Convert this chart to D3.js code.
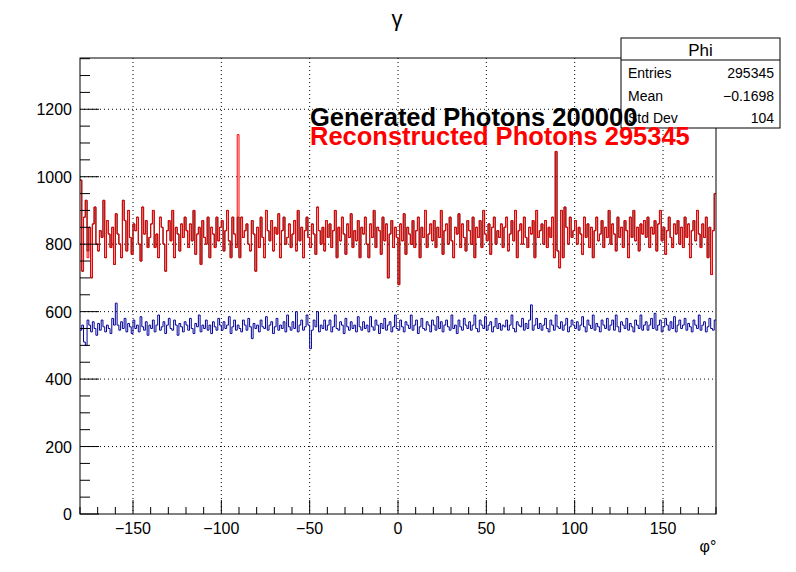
<!DOCTYPE html>
<html>
<head>
<meta charset="utf-8">
<script src="https://cdn.jsdelivr.net/npm/d3@7"></script>
<style>
body { margin: 0; background: #fff; }
text { font-family: "Liberation Sans", Arial, sans-serif; }
</style>
</head>
<body>
<div id="chart"></div>
<script>
const width = 796
const height = 572
const margins = ({ top: 58, right: 80, bottom: 58, left: 80 })

// bins of 1 degree, -180 .. 179
const binStart = -180
const binWidth = 1

const redCounts = [
    990,720,880,930,760,850,700,860,910,800,780,840,820,930,760,870,830,790,850,740,
    890,830,800,760,930,870,780,900,820,770,860,840,880,800,750,910,830,870,790,820,
    860,900,790,830,760,880,850,800,720,840,870,810,900,760,850,830,780,860,820,880,
    840,790,860,810,900,770,830,850,740,870,820,800,880,760,850,830,790,880,810,850,
    870,780,840,900,810,760,880,830,790,1125,760,880,820,840,860,800,780,870,830,720,
    850,790,880,820,760,900,840,810,870,780,850,830,890,760,840,880,800,820,860,790,
    830,870,780,900,810,850,760,840,880,820,790,860,830,770,910,840,800,850,780,870,
    820,860,790,840,900,760,850,810,880,830,770,860,820,890,790,840,810,870,760,850,
    830,880,800,760,860,820,900,790,850,840,770,880,810,860,700,830,870,790,850,820,
    680,860,810,890,770,850,830,800,870,790,840,880,760,850,820,900,790,830,860,810,
    870,790,850,820,900,770,840,860,800,880,810,760,850,830,890,790,860,820,780,870,
    840,800,880,760,850,820,870,790,900,830,810,860,770,850,880,800,840,820,860,790,
    850,880,780,830,870,810,900,760,840,860,800,880,820,790,850,830,870,760,900,820,
    840,860,800,870,790,850,820,880,760,1075,780,730,900,760,910,850,800,880,820,840,
    870,800,850,830,770,880,820,860,790,850,760,840,880,810,830,870,790,850,820,900,
    800,860,830,780,880,820,850,790,870,840,760,880,820,900,810,850,780,860,830,870,
    820,880,790,850,830,870,780,860,900,810,850,770,840,880,820,790,860,830,870,800,
    850,790,880,820,860,760,840,870,810,900,830,790,860,820,880,760,850,710,840,950
]

const blackCounts = [
    990,720,880,930,780,850,700,860,910,800,780,840,820,930,760,870,830,790,850,740,
    890,830,800,760,930,870,780,900,820,770,860,840,880,800,750,910,830,870,790,820,
    860,900,790,830,760,880,850,800,720,840,870,810,900,760,850,830,780,860,820,880,
    840,790,860,810,900,770,830,850,740,870,820,800,880,760,850,830,790,880,810,850,
    870,780,840,900,810,760,880,830,790,880,760,880,820,840,860,800,780,870,830,720,
    850,790,880,820,760,900,840,810,870,780,850,830,890,760,840,880,800,820,860,790,
    830,870,780,900,810,850,760,840,880,820,790,860,830,770,910,840,800,850,780,870,
    820,860,790,840,900,760,850,810,880,830,770,860,820,890,790,840,810,870,760,850,
    830,880,800,760,860,820,900,790,850,840,770,880,810,860,700,830,870,790,850,820,
    680,860,810,890,770,850,830,800,870,790,840,880,760,850,820,900,790,830,860,810,
    870,790,850,820,900,770,840,860,800,880,810,760,850,830,890,790,860,820,780,870,
    840,800,880,760,850,820,870,790,900,830,810,860,770,850,880,800,840,820,860,790,
    850,880,780,830,870,810,900,760,840,860,800,880,820,790,850,830,870,760,900,820,
    840,860,800,870,790,850,820,880,760,1075,780,730,900,760,910,850,800,880,820,840,
    870,800,850,830,770,880,820,860,790,850,760,840,880,810,830,870,790,850,820,900,
    800,860,830,780,880,820,850,790,870,840,760,880,820,900,810,850,780,860,830,870,
    820,880,790,850,830,870,780,860,900,810,850,770,840,880,820,790,860,830,870,800,
    850,790,880,820,860,760,840,870,810,900,830,790,860,820,880,760,850,710,840,950
]

const blueCounts = [
    545,560,510,500,575,560,540,570,550,530,565,545,575,555,540,560,550,535,580,560,
    625,560,545,570,550,580,540,565,555,535,575,550,560,540,585,555,545,570,530,560,
    550,575,540,560,590,545,555,570,535,560,580,550,545,575,560,530,565,555,540,570,
    560,545,580,550,535,565,555,590,540,560,550,575,545,560,535,570,555,545,580,560,
    545,570,550,560,585,535,555,575,545,560,550,540,575,560,545,580,555,520,565,550,
    560,540,575,555,550,585,545,560,570,535,555,580,545,560,550,570,540,590,555,545,
    570,550,600,540,560,575,545,555,590,560,490,545,575,555,600,540,560,550,575,545,
    560,575,540,555,590,550,545,570,560,535,580,555,545,570,550,560,540,585,555,545,
    570,550,560,540,585,555,545,575,560,535,565,550,580,545,560,570,540,555,590,550,
    545,575,555,540,570,560,550,590,545,560,575,535,555,580,550,545,570,560,540,575,
    560,545,585,550,570,540,560,575,555,545,590,550,560,535,575,555,545,580,560,550,
    570,545,560,590,550,540,575,560,550,585,545,560,570,540,555,580,550,565,545,560,
    555,575,545,560,590,550,540,570,560,555,580,545,565,550,575,620,545,560,580,550,
    565,545,560,580,550,540,575,560,545,590,555,550,570,545,560,580,540,555,575,560,
    550,570,545,560,585,555,540,575,560,550,590,545,565,555,540,575,560,550,580,545,
    560,575,545,590,555,540,570,560,550,580,545,565,555,540,575,560,550,590,545,560,
    570,545,560,580,550,595,545,560,575,540,555,580,560,545,570,550,585,540,560,575,
    550,560,580,545,565,555,540,575,560,550,590,545,560,570,540,555,580,550,545,575
]

const xTicks = [-150, -100, -50, 0, 50, 100, 150]
const yTicks = [0, 200, 400, 600, 800, 1000, 1200]
const statsLabels = ["Entries", "Mean", "Std Dev"]
const statsValues = ["295345", "\u22120.1698", "104"]

const svg = d3.select("#chart")
    .append("svg")
    .attr("width", width)
    .attr("height", height)

const x = d3.scaleLinear().domain([-180, 180]).range([margins.left, width - margins.right])
const y = d3.scaleLinear().domain([0, 1352]).range([height - margins.bottom, margins.top])
const plotBottom = height - margins.bottom
const plotRight = width - margins.right

// grid
svg.selectAll(".xgrid").data(xTicks).enter().append("line")
    .attr("x1", d => x(d)).attr("x2", d => x(d))
    .attr("y1", margins.top).attr("y2", plotBottom)
    .attr("stroke", "#000").attr("stroke-dasharray", "1,3")
svg.selectAll(".ygrid").data(yTicks.slice(1)).enter().append("line")
    .attr("x1", margins.left).attr("x2", plotRight)
    .attr("y1", d => y(d)).attr("y2", d => y(d))
    .attr("stroke", "#000").attr("stroke-dasharray", "1,3")

function drawHist(counts, color) {
    let pts = counts.map((c, i) => [binStart + i * binWidth, c])
    pts.push([binStart + counts.length * binWidth, counts[counts.length - 1]])
    let line = d3.line().x(d => x(d[0])).y(d => y(d[1])).curve(d3.curveStepAfter)
    svg.append("path")
        .attr("d", line(pts))
        .attr("fill", "none")
        .attr("stroke", color)
        .attr("stroke-width", 1)
}

drawHist(blackCounts, "#000")
drawHist(redCounts, "#ff0000")
drawHist(blueCounts, "#000099")

// frame
svg.append("rect")
    .attr("x", margins.left).attr("y", margins.top)
    .attr("width", plotRight - margins.left).attr("height", plotBottom - margins.top)
    .attr("fill", "none").attr("stroke", "#000")

// ticks (ROOT style, inside)
const xMinor = d3.range(-180, 181, 10)
svg.selectAll(".xminor").data(xMinor).enter().append("line")
    .attr("x1", d => x(d)).attr("x2", d => x(d))
    .attr("y1", plotBottom).attr("y2", d => plotBottom - (d % 50 == 0 ? 14 : 7))
    .attr("stroke", "#000")
const yMinor = d3.range(0, 1351, 50)
svg.selectAll(".yminor").data(yMinor).enter().append("line")
    .attr("x1", margins.left).attr("x2", d => margins.left + (d % 200 == 0 ? 19 : 10))
    .attr("y1", d => y(d)).attr("y2", d => y(d))
    .attr("stroke", "#000")

svg.selectAll(".xlab").data(xTicks).enter().append("text")
    .attr("x", d => x(d)).attr("y", plotBottom + 20)
    .attr("text-anchor", "middle").attr("font-size", 16)
    .text(d => d < 0 ? "\u2212" + Math.abs(d) : d)
svg.selectAll(".ylab").data(yTicks).enter().append("text")
    .attr("x", margins.left - 8).attr("y", d => y(d) + 6)
    .attr("text-anchor", "end").attr("font-size", 16)
    .text(d => d)

svg.append("text").attr("x", 708).attr("y", 552).attr("text-anchor", "middle")
    .attr("font-size", 16).text("\u03c6\u00b0")
svg.append("text").attr("x", 397).attr("y", 26).attr("text-anchor", "middle")
    .attr("font-size", 22).attr("font-family", "DejaVu Serif").text("\u03b3")

// stats box
const sb = { x: 621, y: 38, w: 159, h: 90 }
svg.append("rect").attr("x", sb.x).attr("y", sb.y).attr("width", sb.w).attr("height", sb.h)
    .attr("fill", "#fff").attr("stroke", "#000")
svg.append("line").attr("x1", sb.x).attr("x2", sb.x + sb.w).attr("y1", sb.y + 22).attr("y2", sb.y + 22)
    .attr("stroke", "#000")
svg.append("text").attr("x", sb.x + sb.w / 2).attr("y", sb.y + 18).attr("text-anchor", "middle")
    .attr("font-size", 17).text("Phi")
svg.selectAll(".slab").data(statsLabels).enter().append("text")
    .attr("x", sb.x + 7).attr("y", (d, i) => sb.y + 40 + i * 22.5)
    .attr("font-size", 14).text(d => d)
svg.selectAll(".sval").data(statsValues).enter().append("text")
    .attr("x", sb.x + sb.w - 6).attr("y", (d, i) => sb.y + 40 + i * 22.5)
    .attr("text-anchor", "end").attr("font-size", 14).text(d => d)

// legend texts drawn over the stats box, as in the reference
svg.append("text").attr("x", 310).attr("y", 126).attr("font-size", 25.5)
    .attr("font-weight", "bold").attr("fill", "#000").text("Generated Photons 200000")
svg.append("text").attr("x", 310).attr("y", 145).attr("font-size", 25.5)
    .attr("font-weight", "bold").attr("fill", "#ff0000").text("Reconstructed Photons 295345")
</script>
</body>
</html>
